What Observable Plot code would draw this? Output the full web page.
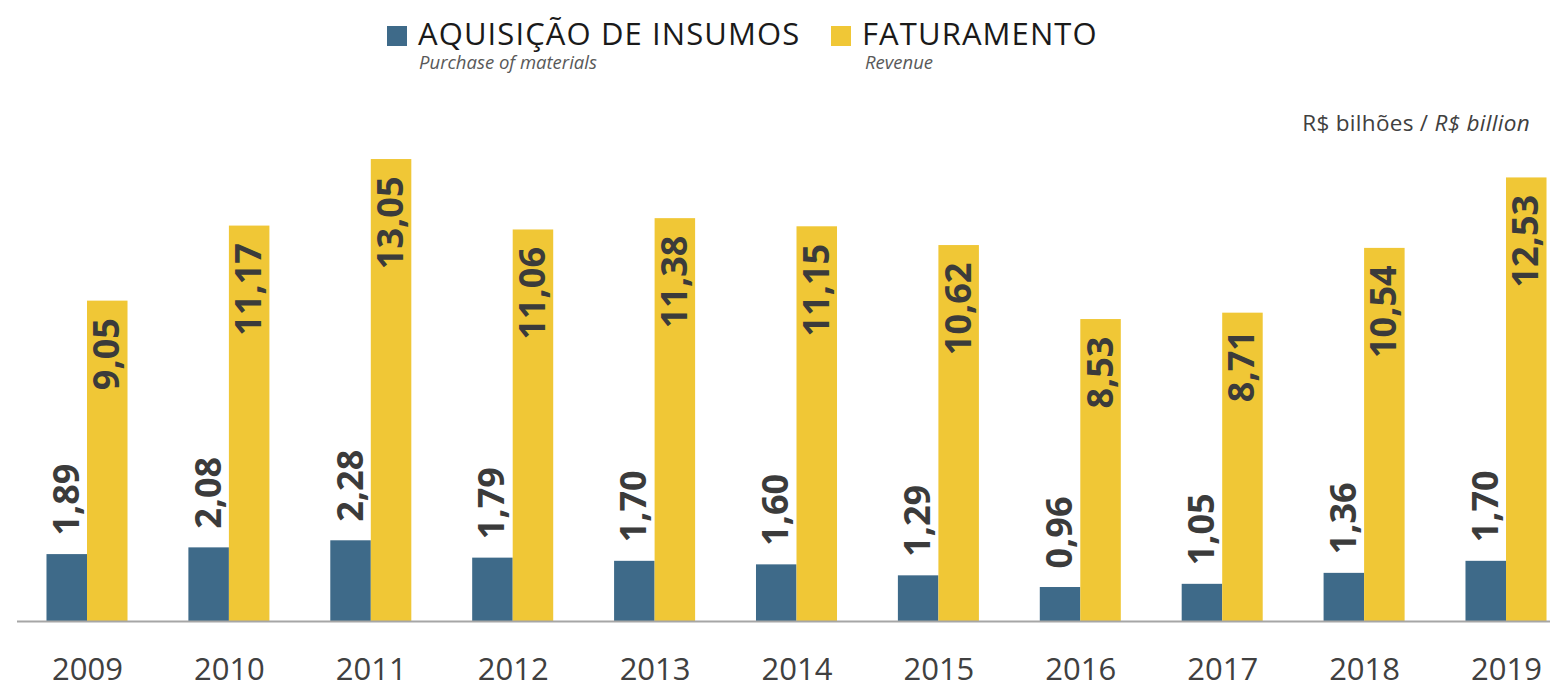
<!DOCTYPE html>
<html>
<head>
<meta charset="utf-8">
<script src="https://cdn.jsdelivr.net/npm/d3@7"></script>
<script src="https://cdn.jsdelivr.net/npm/@observablehq/plot@0.6"></script>
<style>
  html, body { margin: 0; padding: 0; background: #fff; }
  #wrap { position: relative; width: 1550px; height: 684px; font-family: "Open Sans", sans-serif; }
  #wrap svg { position: absolute; left: 0; top: 0; }
  .abs { position: absolute; white-space: nowrap; line-height: 1; }
  .sw { position: absolute; width: 20px; height: 20px; }
  .leg { font-size: 31px; color: #1a1a1a; letter-spacing: 1.1px; }
  .sub { font-size: 18.5px; color: #595959; font-style: italic; }
  .unit { font-size: 22.5px; color: #404040; text-align: right; letter-spacing: 0.3px; }
</style>
</head>
<body>
<div id="wrap">
  <div class="sw" id="sw1" style="left:387px; top:26px;"></div>
  <div class="abs leg" style="left:418px; top:18px;">AQUISIÇÃO DE INSUMOS</div>
  <div class="abs sub" style="left:419px; top:53px;">Purchase of materials</div>
  <div class="sw" id="sw2" style="left:831px; top:26px;"></div>
  <div class="abs leg" style="left:862px; top:18px;">FATURAMENTO</div>
  <div class="abs sub" style="left:865px; top:53px;">Revenue</div>
  <div class="abs unit" style="right:20px; top:112px;">R$ bilhões / <i>R$ billion</i></div>
</div>
<script>
const years = ["2009","2010","2011","2012","2013","2014","2015","2016","2017","2018","2019"];
const acquisition = [1.89, 2.08, 2.28, 1.79, 1.70, 1.60, 1.29, 0.96, 1.05, 1.36, 1.70];
const revenue = [9.05, 11.17, 13.05, 11.06, 11.38, 11.15, 10.62, 8.53, 8.71, 10.54, 12.53];

const BLUE = "#3e6a89";
const YELLOW = "#f0c736";
document.getElementById("sw1").style.background = BLUE;
document.getElementById("sw2").style.background = YELLOW;

const table = years.map((year, i) => ({year, acq: acquisition[i], rev: revenue[i]}));
const fmt = d3.formatLocale({decimal: ",", thousands: ".", grouping: [3], currency: ["R$", ""]}).format(".2f");

const W = 1550, H = 684;
const baseY = 621;
const pxPerUnit = 35.4;
const step = 141.9;
const firstCenter = 87;
const pi = 0.429;
const half = step * (1 - pi) / 2;

const chart = Plot.plot({
  width: W,
  height: H,
  marginLeft: 17,
  marginRight: 0,
  marginTop: baseY - 14 * pxPerUnit,
  marginBottom: H - baseY,
  style: {fontFamily: "Open Sans", fontSize: "31px", color: "#404040", background: "transparent"},
  x: {
    type: "band",
    domain: years,
    range: [firstCenter - step / 2, firstCenter + step * (years.length - 0.5)],
    paddingInner: pi,
    paddingOuter: pi / 2,
    round: false,
    tickSize: 0,
    tickPadding: 36,
    label: null
  },
  y: {domain: [0, 14], range: [baseY, baseY - 14 * pxPerUnit], axis: null},
  marks: [
    Plot.barY(table, {x: "year", y: "acq", fill: BLUE, insetRight: half}),
    Plot.barY(table, {x: "year", y: "rev", fill: YELLOW, insetLeft: half}),
    Plot.ruleY([0], {stroke: "#a6a6a6", strokeWidth: 2}),
    Plot.text(table, {x: "year", y: "acq", text: d => fmt(d.acq), rotate: -90, textAnchor: "start",
      dx: -half / 2, dy: -19, fontSize: 36, fontWeight: "bold", fill: "#3b3b3b"}),
    Plot.text(table, {x: "year", y: "rev", text: d => fmt(d.rev), rotate: -90, textAnchor: "end",
      dx: half / 2, dy: 17, fontSize: 36, fontWeight: "bold", fill: "#3b3b3b"})
  ]
});
document.getElementById("wrap").prepend(chart);
</script>
</body>
</html>
